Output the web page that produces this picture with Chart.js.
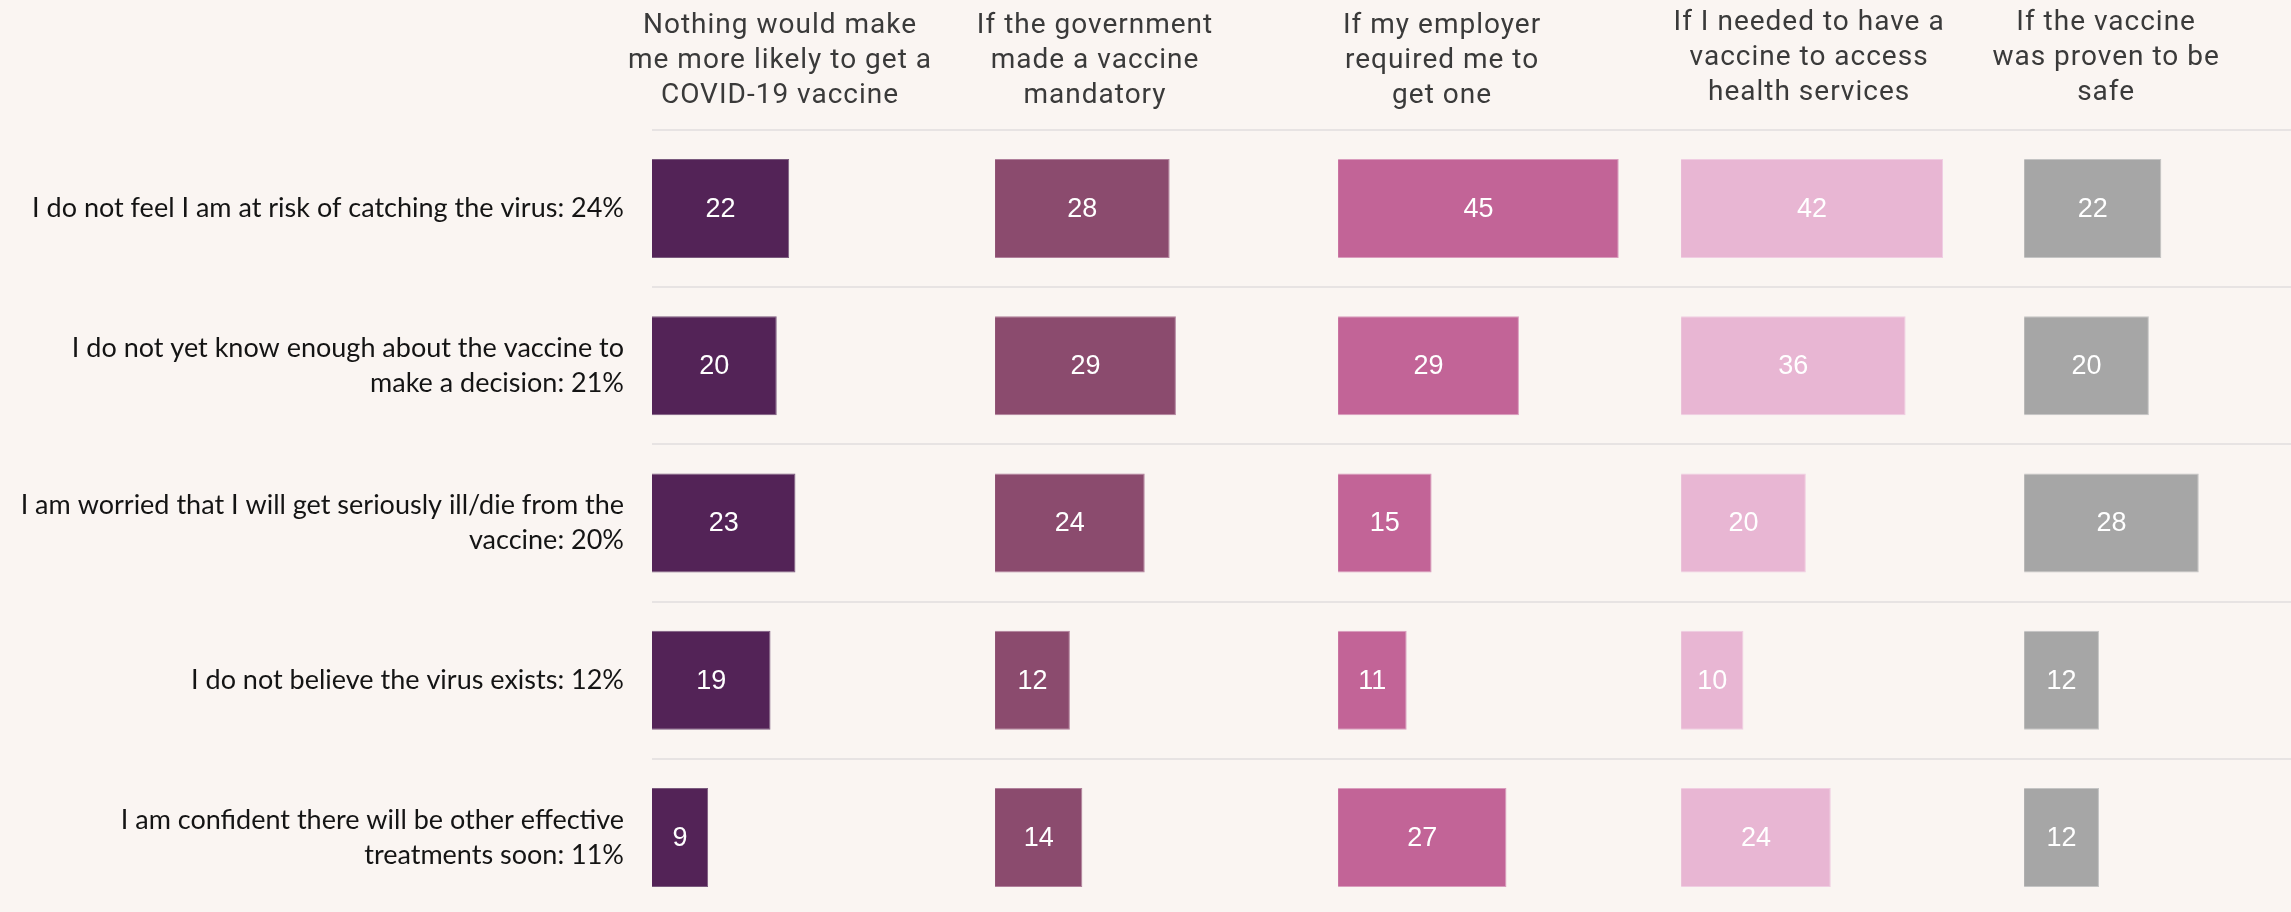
<!DOCTYPE html>
<html lang="en">
<head>
<meta charset="UTF-8">
<title>What would make people more likely to get a COVID-19 vaccine</title>
<script src="https://cdn.jsdelivr.net/npm/chart.js"></script>
<style>
  html, body { margin: 0; padding: 0; background: #faf5f2; overflow: hidden; }
  /* the last row runs a little past the bottom edge of the page */
  #wrap { width: 2291px; height: 916px; }
</style>
</head>
<body>
<div id="wrap"><canvas id="hesitancyChart"></canvas></div>

<script>
// rows: main reason for not wanting the vaccine
const reasons = [
  'I do not feel I am at risk of catching the virus: 24%',
  ['I do not yet know enough about the vaccine to', 'make a decision: 21%'],
  ['I am worried that I will get seriously ill/die from the', 'vaccine: 20%'],
  'I do not believe the virus exists: 12%',
  ['I am confident there will be other effective', 'treatments soon: 11%']
];

// columns: what would change their mind
const motivators = [
  ['Nothing would make', 'me more likely to get a', 'COVID-19 vaccine'],
  ['If the government', 'made a vaccine', 'mandatory'],
  ['If my employer', 'required me to', 'get one'],
  ['If I needed to have a', 'vaccine to access', 'health services'],
  ['If the vaccine', 'was proven to be', 'safe']
];

const nothingWould = [22, 20, 23, 19, 9];
const governmentMandate = [28, 29, 24, 12, 14];
const employerRequired = [45, 29, 15, 11, 27];
const healthAccess = [42, 36, 20, 10, 24];
const provenSafe = [22, 20, 28, 12, 12];

const columnValues = [nothingWould, governmentMandate, employerRequired, healthAccess, provenSafe];
const columnColors = ['#532357', '#8b4b6e', '#c26497', '#e8b6d3', '#a6a6a6'];
const columnEdges = ['#7a5a7e', '#b07f9b', '#d99cbd', '#f0cde2', '#c4c4c4'];

// header placement inside each panel (px from panel's left edge, px lifted)
const headerShift = [128, 100, 104, 128, 82];
const headerLift = [0, 0, 0, 3, 3];

const PANEL_MAX = 55;
const LAST_PANEL_WEIGHT = 0.778;

const datasets = columnValues.map((values, i) => ({
  label: motivators[i].join(' '),
  data: values,
  xAxisID: 'x' + i,
  backgroundColor: columnColors[i],
  borderColor: columnEdges[i],
  borderWidth: 1,
  grouped: false,
  barPercentage: 0.63,
  categoryPercentage: 1
}));

const scales = {
  y: {
    type: 'category',
    position: 'left',
    grid: { color: '#e7e3e3', lineWidth: 2, offset: true, drawTicks: false },
    border: { display: false },
    ticks: {
      color: '#141414',
      padding: 28,
      font: { family: 'Lato', size: 27, lineHeight: 1.3 }
    },
    afterFit: scale => {
      scale.width = 652;
      // labels sit mid-row, no need to reserve room above/below
      scale.paddingTop = 0;
      scale.paddingBottom = 0;
    }
  }
};
motivators.forEach((m, i) => {
  const last = i === motivators.length - 1;
  scales['x' + i] = {
    position: 'bottom',
    stack: 'panels',
    stackWeight: last ? LAST_PANEL_WEIGHT : 1,
    min: 0,
    max: last ? PANEL_MAX * LAST_PANEL_WEIGHT : PANEL_MAX,
    grid: { display: false },
    border: { display: false },
    ticks: { display: false },
    afterFit: scale => { scale.height = 0; }
  };
});

// white numbers in the middle of every bar
const barValueLabels = {
  id: 'barValueLabels',
  afterDatasetsDraw(chart) {
    const ctx = chart.ctx;
    ctx.save();
    ctx.fillStyle = '#ffffff';
    ctx.font = '27px "Liberation Sans", Arial, sans-serif';
    ctx.textAlign = 'center';
    ctx.textBaseline = 'middle';
    chart.data.datasets.forEach((ds, di) => {
      chart.getDatasetMeta(di).data.forEach((bar, i) => {
        const c = bar.getCenterPoint();
        ctx.fillText(ds.data[i], c.x, c.y + 1);
      });
    });
    ctx.restore();
  }
};

// column headings above each panel
const panelHeaders = {
  id: 'panelHeaders',
  afterDraw(chart) {
    const ctx = chart.ctx;
    ctx.save();
    ctx.fillStyle = '#3a3a3a';
    ctx.font = '28px Roboto, sans-serif';
    ctx.letterSpacing = '1px';
    ctx.textAlign = 'center';
    ctx.textBaseline = 'alphabetic';
    motivators.forEach((lines, i) => {
      const axis = chart.scales['x' + i];
      const cx = axis.left + headerShift[i];
      lines.forEach((t, k) => {
        ctx.fillText(t, cx, 33 + k * 35 - headerLift[i]);
      });
    });
    ctx.restore();
  }
};

new Chart(document.getElementById('hesitancyChart'), {
  type: 'bar',
  data: { labels: reasons, datasets: datasets },
  options: {
    indexAxis: 'y',
    responsive: true,
    maintainAspectRatio: false,
    animation: false,
    layout: { padding: { top: 130, bottom: 0, left: 0, right: 0 } },
    scales: scales,
    plugins: {
      legend: { display: false },
      tooltip: { enabled: false }
    }
  },
  plugins: [barValueLabels, panelHeaders]
});
</script>
</body>
</html>
